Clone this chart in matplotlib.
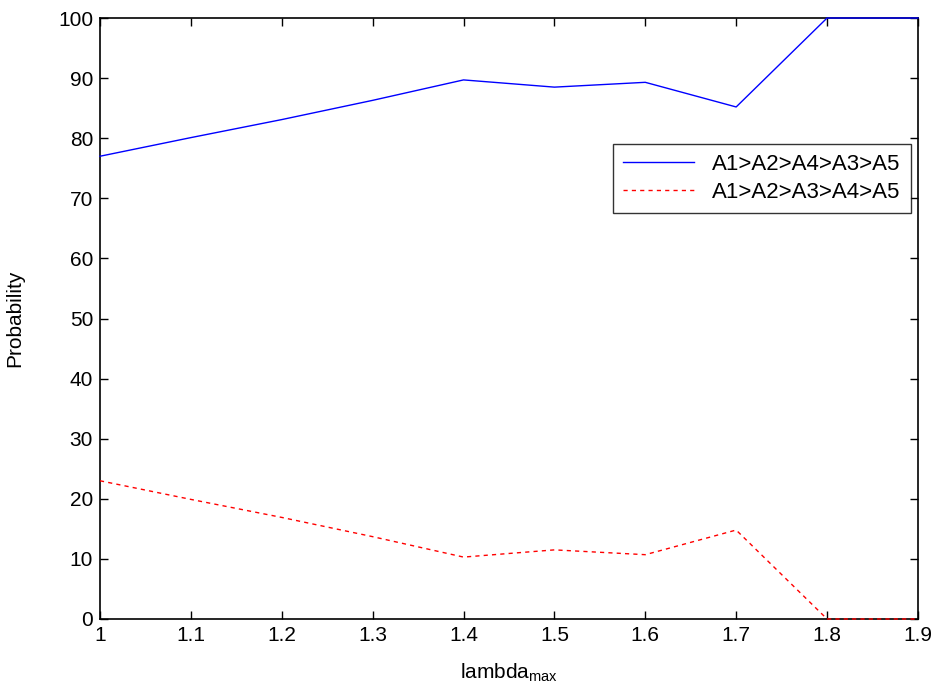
import numpy as np
import matplotlib.pyplot as plt

plt.rcParams['font.family'] = ['Liberation Sans', 'DejaVu Sans']

lam = [1.0, 1.1, 1.2, 1.3, 1.4, 1.5, 1.6, 1.7, 1.8, 1.9]
p_a4a3 = [77.0, 80.1, 83.1, 86.3, 89.7, 88.5, 89.3, 85.2, 100.0, 100.0]
p_a3a4 = [23.0, 19.9, 16.9, 13.7, 10.3, 11.5, 10.7, 14.8, 0.0, 0.0]
labels = ["A1>A2>A4>A3>A5", "A1>A2>A3>A4>A5"]

fig = plt.figure(figsize=(9.38, 6.93), dpi=100)
ax = fig.add_axes([0.1066, 0.1068, 0.872, 0.8672])

ax.plot(lam, p_a4a3, color='#0000ff', lw=1.0, label=labels[0], clip_on=False, zorder=3)
ax.plot(lam, p_a3a4, color='#ff0000', lw=1.0, ls=(0, (3, 3)), label=labels[1],
        clip_on=False, zorder=3)

ax.set_xlim(1, 1.9)
ax.set_ylim(0, 100)
ax.set_xticks(np.arange(1, 1.91, 0.1))
ax.set_xticklabels(["1", "1.1", "1.2", "1.3", "1.4", "1.5", "1.6", "1.7", "1.8", "1.9"])
ax.set_yticks(range(0, 101, 10))
ax.tick_params(direction='in', top=True, right=True, length=6, width=1,
               labelsize=15, pad=5)
for s in ax.spines.values():
    s.set_linewidth(1.2)

ax.set_xlabel(r"lambda$_\mathregular{max}$", fontsize=15, labelpad=12)
ax.set_ylabel("Probability", fontsize=15, labelpad=24)

leg = ax.legend(loc='upper right', bbox_to_anchor=(0.991, 0.79), fontsize=16,
                frameon=True, fancybox=False, borderaxespad=0, handlelength=3.2,
                labelspacing=0.3, borderpad=0.45)
leg.get_frame().set_edgecolor('black')
leg.get_frame().set_linewidth(1.0)

fig.savefig("out.png", dpi=100)
